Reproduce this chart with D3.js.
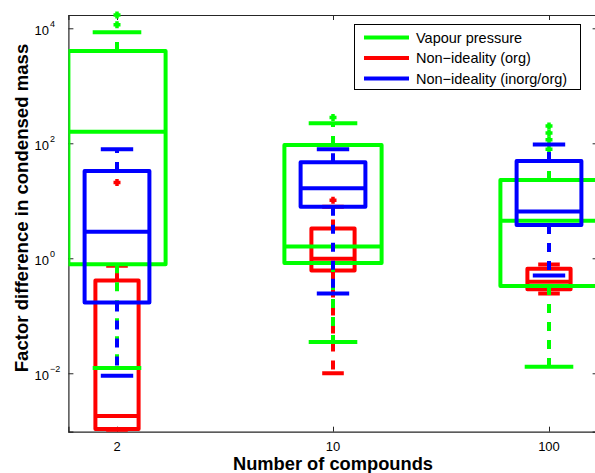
<!DOCTYPE html>
<html>
<head>
<meta charset="utf-8">
<script src="https://cdn.jsdelivr.net/npm/d3@7"></script>
<style>
  html, body { margin: 0; padding: 0; background: #fff; }
  svg { display: block; font-family: "Liberation Sans", Arial, sans-serif; }
</style>
</head>
<body>
<svg id="chart" width="595" height="473"></svg>
<script>
// ---------- data ----------
const categories = ["2", "10", "100"];
const seriesNames = ["Vapour pressure", "Non\u2212ideality (org)", "Non\u2212ideality (inorg/org)"];
const seriesColors = ["#00ff00", "#ff0000", "#0000ff"];
const yTickValues = [1e-2, 1e0, 1e2, 1e4];
const yTickExponents = ["\u22122", "0", "2", "4"];

// per series: one entry per category
const vapourLowerWhisker = [0.0123, 0.035, 0.013];
const vapourQ1           = [0.79, 0.83, 0.33];
const vapourMedian       = [158, 1.6, 4.5];
const vapourQ3           = [4030, 93, 23];
const vapourUpperWhisker = [8500, 224, 49];
const vapourOutliers     = [[11500, 17000], [280], [200, 151, 115, 79]];

const orgLowerWhisker = [0.001, 0.01, 0.245];
const orgQ1           = [0.00107, 0.61, 0.29];
const orgMedian       = [0.0018, 0.98, 0.39];
const orgQ3           = [0.41, 3.3, 0.66];
const orgUpperWhisker = [0.74, 7.9, 0.78];
const orgOutliers     = [[20.7], [10.2], []];

const inorgLowerWhisker = [0.0091, 0.245, 0.5];
const inorgQ1           = [0.17, 7.9, 3.8];
const inorgMedian       = [2.9, 16.6, 6.5];
const inorgQ3           = [33, 47, 49];
const inorgUpperWhisker = [79, 79, 95];
const inorgOutliers     = [[], [], []];

// ---------- build series table ----------
function build(lw, q1, med, q3, uw, out) {
  return categories.map((c, i) => ({cat: c, idx: i, lw: lw[i], q1: q1[i], med: med[i], q3: q3[i], uw: uw[i], out: out[i]}));
}
const series = [
  {name: seriesNames[0], color: seriesColors[0], width: 0.45, boxes: build(vapourLowerWhisker, vapourQ1, vapourMedian, vapourQ3, vapourUpperWhisker, vapourOutliers)},
  {name: seriesNames[1], color: seriesColors[1], width: 0.20, boxes: build(orgLowerWhisker, orgQ1, orgMedian, orgQ3, orgUpperWhisker, orgOutliers)},
  {name: seriesNames[2], color: seriesColors[2], width: 0.30, boxes: build(inorgLowerWhisker, inorgQ1, inorgMedian, inorgQ3, inorgUpperWhisker, inorgOutliers)}
];
const drawOrder = [1, 0, 2];

// ---------- layout ----------
const L = 68.4, R = 597.6, T = 15, B = 431.7;
const x = d3.scaleLinear().domain([0.775, 3.225]).range([L, R]);
const y = d3.scaleLog().domain([Math.pow(10, -3.016), Math.pow(10, 4.231)]).range([B, T]);

const svg = d3.select("#chart");
svg.append("defs").append("clipPath").attr("id", "plotclip")
  .append("rect").attr("x", L).attr("y", T).attr("width", R - L).attr("height", B - T);

const axisColor = "#262626";

// axes
const gL = svg.append("g").attr("transform", `translate(${L},0)`)
  .call(d3.axisRight(y).tickValues(yTickValues).tickSize(5).tickFormat(""));
const gR = svg.append("g").attr("transform", `translate(${R},0)`)
  .call(d3.axisLeft(y).tickValues(yTickValues).tickSize(5).tickFormat(""));
const gB = svg.append("g").attr("transform", `translate(0,${B})`)
  .call(d3.axisTop(x).tickValues([1, 2, 3]).tickSize(5).tickFormat(""));
const gT = svg.append("g").attr("transform", `translate(0,${T})`)
  .call(d3.axisBottom(x).tickValues([1, 2, 3]).tickSize(5).tickFormat(""));
[gL, gR, gB, gT].forEach(g => {
  g.select(".domain").attr("stroke", axisColor).attr("stroke-width", 1.2);
  g.selectAll(".tick line").attr("stroke", axisColor).attr("stroke-width", 1);
});

// y tick labels with superscripts
yTickValues.forEach((v, i) => {
  svg.append("text")
    .attr("x", 49).attr("y", y(v) + 7)
    .attr("text-anchor", "end")
    .attr("font-size", 13).attr("fill", "#000")
    .text("10");
  svg.append("text")
    .attr("x", 50).attr("y", y(v) - 1)
    .attr("font-size", 9).attr("fill", "#000")
    .text(yTickExponents[i]);
});

// x tick labels
categories.forEach((c, i) => {
  svg.append("text").attr("x", x(i + 1)).attr("y", 450.7)
    .attr("text-anchor", "middle").attr("font-size", 13).attr("fill", "#000").text(c);
});

// axis titles
svg.append("text").attr("x", x(2)).attr("y", 469.5)
  .attr("text-anchor", "middle").attr("font-size", 18.3).attr("font-weight", "bold")
  .text("Number of compounds");
svg.append("text").attr("transform", "translate(27.5,208) rotate(-90)")
  .attr("text-anchor", "middle").attr("font-size", 18.6).attr("font-weight", "bold")
  .text("Factor difference in condensed mass");

// ---------- boxes ----------
const lw = 4;
const plot = svg.append("g");
drawOrder.forEach(si => {
  const s = series[si];
  const g = plot.append("g").attr("stroke", s.color).attr("fill", "none")
    .attr("stroke-width", lw).attr("stroke-linejoin", "round");
  const lines = g.append("g").attr("clip-path", "url(#plotclip)");
  s.boxes.forEach(b => {
    const cx = x(b.idx + 1);
    const hw = x(b.idx + 1 + s.width / 2) - cx;
    const cw = hw / 2;
    // whiskers
    lines.append("line").attr("x1", cx).attr("x2", cx).attr("y1", y(b.q3)).attr("y2", y(b.uw))
      .attr("stroke-dasharray", "9,9");
    lines.append("line").attr("x1", cx).attr("x2", cx).attr("y1", y(b.q1)).attr("y2", y(b.lw))
      .attr("stroke-dasharray", "9,9");
    // caps
    lines.append("line").attr("x1", cx - cw).attr("x2", cx + cw).attr("y1", y(b.uw)).attr("y2", y(b.uw));
    lines.append("line").attr("x1", cx - cw).attr("x2", cx + cw).attr("y1", y(b.lw)).attr("y2", y(b.lw));
    // box
    lines.append("rect").attr("x", cx - hw).attr("width", 2 * hw)
      .attr("y", y(b.q3)).attr("height", y(b.q1) - y(b.q3));
    // median
    lines.append("line").attr("x1", cx - hw).attr("x2", cx + hw).attr("y1", y(b.med)).attr("y2", y(b.med));
    // outliers (+ markers, not clipped)
    b.out.forEach(o => {
      const oy = y(o), m = 3.5;
      g.append("path").attr("stroke-width", 3.5)
        .attr("d", `M${cx - m},${oy}H${cx + m}M${cx},${oy - m}V${oy + m}`);
    });
  });
});

// ---------- legend ----------
const leg = svg.append("g");
leg.append("rect").attr("x", 354.5).attr("y", 24.5).attr("width", 226).attr("height", 65)
  .attr("fill", "#fff").attr("stroke", "#000").attr("stroke-width", 1);
const legY = [37.5, 58, 78.5];
series.forEach((s, i) => {
  leg.append("line").attr("x1", 364).attr("x2", 409).attr("y1", legY[i]).attr("y2", legY[i])
    .attr("stroke", s.color).attr("stroke-width", 4);
  leg.append("text").attr("x", 416).attr("y", legY[i] + 5.2)
    .attr("font-size", 14.5).attr("fill", "#000").text(s.name);
});
</script>
</body>
</html>
